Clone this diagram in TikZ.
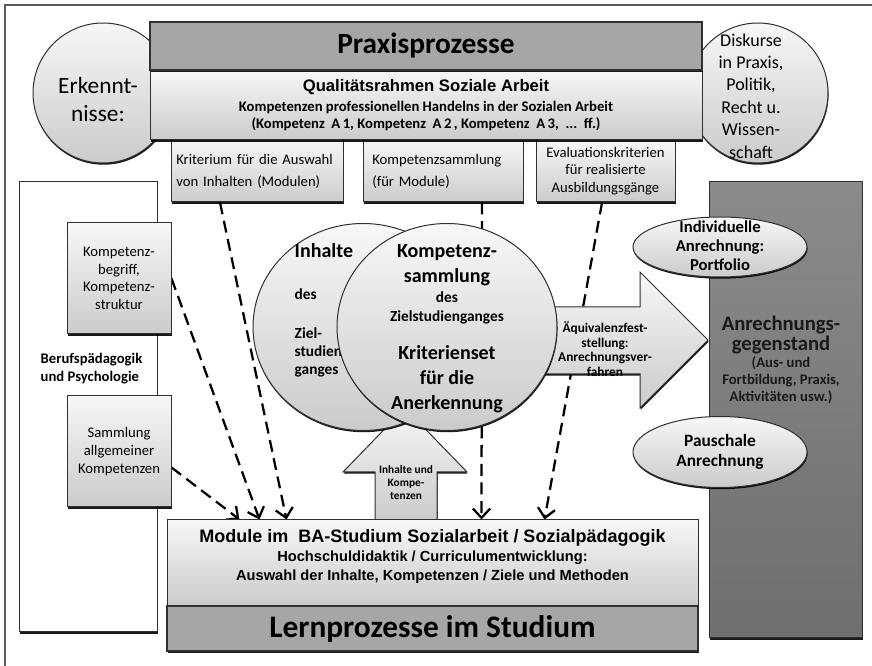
\documentclass[tikz,border=0pt]{standalone}
\usepackage{fontspec}
\setmainfont{Carlito}
\newfontfamily\arialfont{Liberation Sans}
\usetikzlibrary{shapes.geometric,shadows,arrows.meta,backgrounds}
\definecolor{anrlight}{HTML}{8A8A8A}
\definecolor{anrdark}{HTML}{6F6F70}
\definecolor{praxgray}{HTML}{A6A6A6}
\definecolor{paletop}{HTML}{F7F7F7}
\definecolor{palebot}{HTML}{CBCBCB}
\definecolor{framegray}{HTML}{5A5A5A}
\definecolor{edgegray}{HTML}{303030}

\tikzset{
  shadowed/.style={drop shadow={shadow xshift=0.4pt, shadow yshift=-1.3pt, fill=black, opacity=0.9}},
  palebox/.style={draw=edgegray, line width=0.75pt, top color=paletop, bottom color=palebot, shadowed},
  headbar/.style={draw=edgegray, line width=0.9pt, fill=praxgray, shadowed, font=\bfseries\fontsize{22}{26}\selectfont},
  dasharrow/.style={line width=1.7pt, dash pattern=on 9pt off 5pt, -{Straight Barb[length=7pt,width=13pt]}}
}

\begin{document}
\begin{tikzpicture}[x=0.75pt, y=-0.75pt]
\useasboundingbox (0,0) rectangle (872,666);
\draw[framegray, line width=0.9pt] (5,700) -- (5,5) -- (900,5);

\node[palebox, circle, minimum size=105pt, inner sep=0pt] (erk) at (103,93) {};
\node[font=\fontsize{17.5}{21}\selectfont, align=center] (erktext) at (98,99) {Erkennt-\\nisse:};
\node[palebox, circle, minimum size=105pt, inner sep=0pt] (disk) at (758,93) {};
\node[font=\fontsize{13.5}{16.8}\selectfont, align=center] (disktext) at (751,96) {Diskurse\\in Praxis,\\Politik,\\Recht u.\\Wissen-\\schaft};

\node[palebox, minimum width=129pt, minimum height=46.5pt, text width=121pt, inner xsep=4pt, align=left, font=\fontsize{11}{16.5}\selectfont] (krit) at (257,171) {Kriterium für die Auswahl\\von Inhalten (Modulen)};
\node[palebox, minimum width=120pt, minimum height=46.5pt, text width=112pt, inner xsep=4pt, align=left, font=\fontsize{11}{16.5}\selectfont] (ksam) at (443,171) {\hspace*{3pt}Kompetenzsammlung\\\hspace*{3pt}(für Module)};
\node[palebox, minimum width=104.25pt, minimum height=46.5pt, align=center, font=\fontsize{11}{13}\selectfont] (eval) at (605.5,171) {Evaluationskriterien\\für realisierte\\Ausbildungsgänge};

\node[palebox, minimum width=414pt, minimum height=52.5pt, align=center, font=\bfseries\fontsize{11}{12.75}\selectfont] (qual) at (426,105) {{\arialfont\fontsize{12.5}{14}\selectfont Qualitätsrahmen Soziale Arbeit}\\[2pt]Kompetenzen professionellen Handelns in der Sozialen Arbeit\\(Kompetenz\ \ A\,1, Kompetenz\ \ A\,2\,, Kompetenz\ \ A\,3,\ \ ...\ \ ff.)};
\node[headbar, minimum width=414pt, minimum height=36pt] (praxis) at (426,46) {Praxisprozesse};

\node[draw=edgegray, line width=0.75pt, fill=white, shadowed, minimum width=103.5pt, minimum height=337.5pt] (beruf) at (88,407) {};
\node[font=\bfseries\fontsize{11}{13.5}\selectfont, align=left, anchor=west] (beruftext) at (36,369) {Berufspädagogik\\und Psychologie};
\node[palebox, minimum width=78pt, minimum height=83.25pt, align=center, font=\fontsize{11}{13.2}\selectfont] (kbeg) at (119,278.5) {Kompetenz-\\begriff,\\Kompetenz-\\struktur};
\node[palebox, minimum width=78pt, minimum height=83.25pt, align=center, font=\fontsize{11}{13.2}\selectfont] (samm) at (119,451.5) {Sammlung\\allgemeiner\\Kompetenzen};

\draw[palebox] (375,520) -- (375,472) -- (343,472) -- (405,408) -- (467,472) -- (437,472) -- (437,520) -- cycle;
\node[font=\bfseries\fontsize{8.5}{9.75}\selectfont, align=center] (inhkomp) at (406,483) {Inhalte und\\Kompe-\\tenzen};
\draw[palebox] (540,307) -- (640,307) -- (640,272) -- (708,340) -- (640,408) -- (640,374) -- (540,374) -- cycle;
\node[font=\bfseries\fontsize{10}{11}\selectfont, align=center] (aequi) at (605,349) {Äquivalenzfest-\\stellung:\\Anrechnungsver-\\fahren};

\node[palebox, ellipse, minimum width=165pt, minimum height=155.25pt, inner sep=0pt] (inh) at (363,327) {};
\node[font=\bfseries\fontsize{11.5}{13.5}\selectfont, align=left, anchor=west] (inhtext) at (290,310) {{\fontsize{15}{18}\selectfont Inhalte}\\[18pt]des\\[16pt]Ziel-\\studien\\ganges};
\node[palebox, ellipse, minimum width=165pt, minimum height=155.25pt, inner sep=0pt] (komp) at (447,327) {};
\node[font=\bfseries\fontsize{15}{18.75}\selectfont, align=center] (komptext) at (447,329) {Kompetenz-\\sammlung\\[-3.75pt]{\fontsize{11.5}{13.5}\selectfont des}\\[-4.5pt]{\fontsize{11.5}{13.5}\selectfont Zielstudienganges}\\[9.75pt]Kriterienset\\für die\\Anerkennung};

\node[palebox, minimum width=398.25pt, minimum height=64.5pt, text depth=12pt, align=center, font=\arialfont\bfseries\fontsize{11}{14}\selectfont] (modul) at (432.5,563) {{\fontsize{13.5}{14}\selectfont Module im\ \ BA-Studium Sozialarbeit / Sozialpädagogik}\\Hochschuldidaktik / Curriculumentwicklung:\\Auswahl der Inhalte, Kompetenzen / Ziele und Methoden};
\node[headbar, minimum width=398.25pt, minimum height=33.75pt, font=\bfseries\fontsize{23.5}{26}\selectfont] (lern) at (432.5,628.5) {Lernprozesse im Studium};

\node[draw=edgegray, line width=0.75pt, top color=anrlight, bottom color=anrdark, shadowed, minimum width=114.75pt, minimum height=342pt] (anr) at (785.5,410) {};
\node[font=\bfseries\fontsize{11}{12.75}\selectfont, align=center, text=black!90] (anrtext) at (781,360) {{\fontsize{15.5}{17}\selectfont Anrechnungs-}\\{\fontsize{15.5}{17}\selectfont gegenstand}\\(Aus- und\\Fortbildung, Praxis,\\Aktivitäten usw.)};
\node[palebox, ellipse, minimum width=130.5pt, minimum height=45pt] (indiv) at (720,247) {};
\node[font=\bfseries\fontsize{12.5}{14.4}\selectfont, align=center] (indivtext) at (720,246) {Individuelle\\Anrechnung:\\Portfolio};
\node[palebox, ellipse, minimum width=130.5pt, minimum height=53.25pt] (pausch) at (720,452) {};
\node[font=\bfseries\fontsize{13}{15}\selectfont, align=center] (pauschtext) at (720,452) {Pauschale\\Anrechnung};

\begin{scope}[on background layer]
\draw[dasharrow] ([yshift=-12pt]samm.east) -- ([xshift=54.75pt]modul.north west);
\draw[dasharrow] (kbeg.east) -- ([xshift=69.75pt]modul.north west);
\draw[dasharrow] ([xshift=-27.75pt]krit.south) -- ([xshift=90pt]modul.north west);
\draw[dasharrow] ([xshift=29.25pt]ksam.south) -- ([xshift=236.25pt]modul.north west);
\draw[dasharrow] ([xshift=-2.6pt]eval.south) -- ([xshift=283.5pt]modul.north west);
\end{scope}
\end{tikzpicture}
\end{document}
